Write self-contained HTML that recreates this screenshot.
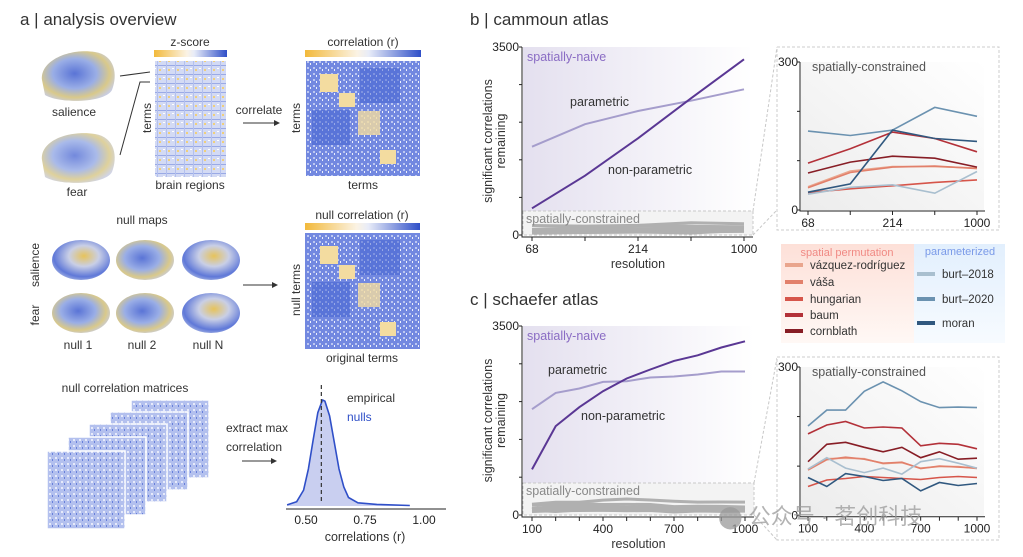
<!DOCTYPE html>
<html><head><meta charset="utf-8"><style>
html,body{margin:0;padding:0;background:#fff}
svg{display:block;font-family:"Liberation Sans","Noto Sans CJK SC",sans-serif}
</style></head><body>
<svg id="fig" width="1023" height="557" viewBox="0 0 1023 557" xmlns="http://www.w3.org/2000/svg">
<defs>
<linearGradient id="cb" x1="0" x2="1"><stop offset="0" stop-color="#f2b93b"/><stop offset="0.45" stop-color="#fbf3e4"/><stop offset="0.55" stop-color="#e8ecf8"/><stop offset="1" stop-color="#2f4fc8"/></linearGradient>
<linearGradient id="naive" x1="0" x2="1"><stop offset="0" stop-color="#e4e0ef"/><stop offset="1" stop-color="#ffffff"/></linearGradient>
<linearGradient id="inset" x1="0" y1="1" x2="1" y2="0"><stop offset="0" stop-color="#ececec"/><stop offset="1" stop-color="#ffffff"/></linearGradient>
<linearGradient id="redbg" x1="0" y1="0" x2="0" y2="1"><stop offset="0" stop-color="#fde0d8"/><stop offset="1" stop-color="#fff8f5"/></linearGradient>
<linearGradient id="bluebg" x1="0" y1="0" x2="0" y2="1"><stop offset="0" stop-color="#e2effd"/><stop offset="1" stop-color="#f7fbff"/></linearGradient>
<radialGradient id="brain1" cx="0.45" cy="0.45" r="0.6"><stop offset="0" stop-color="#5a74d6"/><stop offset="0.5" stop-color="#9aaee6"/><stop offset="0.8" stop-color="#d9c98a"/><stop offset="1" stop-color="#c9cde0"/></radialGradient>
<radialGradient id="brain2" cx="0.55" cy="0.4" r="0.65"><stop offset="0" stop-color="#e7c35a"/><stop offset="0.4" stop-color="#c9cfe6"/><stop offset="0.8" stop-color="#5f78d8"/><stop offset="1" stop-color="#a9b7e3"/></radialGradient>
<pattern id="zmat" width="9" height="9" patternUnits="userSpaceOnUse"><rect width="9" height="9" fill="#d3daf4"/><rect x="0" y="2" width="9" height="1" fill="#9aaae6"/><rect x="4" y="0" width="1" height="9" fill="#b3c0ee"/><rect x="6" y="6" width="2" height="2" fill="#f0cf7a"/><rect x="1" y="5" width="2" height="1" fill="#fff"/></pattern>
<pattern id="cmat" width="6" height="6" patternUnits="userSpaceOnUse"><rect width="6" height="6" fill="#7288e0"/><rect x="1" y="1" width="2" height="2" fill="#bcc7f1"/><rect x="4" y="3" width="1" height="2" fill="#eef1fb"/></pattern>
<pattern id="nmat" width="6" height="6" patternUnits="userSpaceOnUse"><rect width="6" height="6" fill="#b3c0ee"/><rect x="1" y="1" width="2" height="2" fill="#e6eafa"/><rect x="4" y="3" width="1" height="2" fill="#6880da"/></pattern>
</defs>

<!-- PANEL A -->
<g font-size="12" fill="#333">
<text x="20" y="25" font-size="17">a | analysis overview</text>
<path d="M42,80 C40,60 70,48 95,52 C115,55 118,75 112,90 C105,103 60,104 45,95 Z" fill="url(#brain1)"/>
<text x="74" y="116" text-anchor="middle">salience</text>
<path d="M42,160 C40,140 70,130 95,134 C115,137 118,157 112,172 C105,185 60,186 45,177 Z" fill="url(#brain1)" opacity="0.85"/>
<text x="77" y="196" text-anchor="middle">fear</text>
<path d="M120,76 L150,72 M120,155 L140,82 L150,82" stroke="#333" fill="none" stroke-width="1"/>
<text x="190" y="46" text-anchor="middle">z-score</text>
<rect x="154" y="50" width="73" height="7" fill="url(#cb)"/>
<rect x="155" y="61" width="71" height="116" fill="url(#zmat)"/>
<text transform="translate(151,118) rotate(-90)" text-anchor="middle">terms</text>
<text x="190" y="189" text-anchor="middle">brain regions</text>
<text x="259" y="114" text-anchor="middle">correlate</text>
<path d="M243,123 L278,123" stroke="#333"/><path d="M280,123 l-6,-3 v6z" fill="#333"/>
<text x="363" y="46" text-anchor="middle">correlation (r)</text>
<rect x="305" y="50" width="116" height="7" fill="url(#cb)"/>
<rect x="306" y="61" width="114" height="115" fill="url(#cmat)"/>
<rect x="320" y="74" width="18" height="18" fill="#f3dca0"/><rect x="339" y="93" width="16" height="14" fill="#f3dca0"/><rect x="358" y="111" width="22" height="24" fill="#f3dca0" opacity="0.8"/><rect x="380" y="150" width="16" height="14" fill="#f3dca0"/>
<rect x="360" y="68" width="40" height="35" fill="#3f5fd0" opacity="0.5"/><rect x="312" y="110" width="38" height="35" fill="#3f5fd0" opacity="0.5"/>
<text transform="translate(300,118) rotate(-90)" text-anchor="middle">terms</text>
<text x="363" y="189" text-anchor="middle">terms</text>

<text x="142" y="224" text-anchor="middle">null maps</text>
<g>
<ellipse cx="81" cy="260" rx="29" ry="20" fill="url(#brain2)"/><ellipse cx="145" cy="260" rx="29" ry="20" fill="url(#brain1)"/><ellipse cx="211" cy="260" rx="29" ry="20" fill="url(#brain2)"/>
<ellipse cx="81" cy="313" rx="29" ry="20" fill="url(#brain1)"/><ellipse cx="145" cy="313" rx="29" ry="20" fill="url(#brain1)"/><ellipse cx="211" cy="313" rx="29" ry="20" fill="url(#brain2)"/>
</g>
<text transform="translate(39,265) rotate(-90)" text-anchor="middle">salience</text>
<text transform="translate(39,315) rotate(-90)" text-anchor="middle">fear</text>
<text x="78" y="349" text-anchor="middle">null 1</text><text x="142" y="349" text-anchor="middle">null 2</text><text x="208" y="349" text-anchor="middle">null N</text>
<path d="M243,285 L275,285" stroke="#333"/><path d="M278,285 l-6,-3 v6z" fill="#333"/>
<text x="362" y="219" text-anchor="middle">null correlation (r)</text>
<rect x="305" y="223" width="115" height="7" fill="url(#cb)"/>
<rect x="305" y="233" width="115" height="116" fill="url(#cmat)"/>
<rect x="320" y="246" width="18" height="18" fill="#f3dca0"/><rect x="339" y="265" width="16" height="14" fill="#f3dca0"/><rect x="358" y="283" width="22" height="24" fill="#f3dca0" opacity="0.8"/><rect x="380" y="322" width="16" height="14" fill="#f3dca0"/>
<rect x="360" y="240" width="40" height="35" fill="#3f5fd0" opacity="0.5"/><rect x="312" y="282" width="38" height="35" fill="#3f5fd0" opacity="0.5"/>
<text transform="translate(300,290) rotate(-90)" text-anchor="middle">null terms</text>
<text x="362" y="362" text-anchor="middle">original terms</text>

<text x="125" y="392" text-anchor="middle">null correlation matrices</text>
<g stroke="#fff" stroke-width="1.5">
<rect x="131" y="400" width="78" height="78" fill="url(#nmat)"/><rect x="110" y="412" width="78" height="78" fill="url(#nmat)"/><rect x="89" y="424" width="78" height="78" fill="url(#nmat)"/><rect x="68" y="437" width="78" height="78" fill="url(#nmat)"/><rect x="47" y="451" width="78" height="78" fill="url(#nmat)"/>
</g>
<text x="226" y="432">extract max</text>
<text x="226" y="451">correlation</text>
<path d="M242,461 L274,461" stroke="#333"/><path d="M277,461 l-6,-3 v6z" fill="#333"/>
<g id="density"></g>
<text x="347" y="402">empirical</text>
<text x="347" y="421" fill="#2f4fc8">nulls</text>
</g>

<!-- PANEL B -->
<text x="470" y="25" font-size="17" fill="#333">b | cammoun atlas</text>
<g id="bmain"></g>
<g id="binset"></g>
<!-- PANEL C -->
<text x="470" y="305" font-size="17" fill="#333">c | schaefer atlas</text>
<g id="cmain"></g>
<g id="cinset"></g>

<!-- LEGEND -->
<g font-size="11.5" fill="#333">
<rect x="781" y="244" width="133" height="99" fill="url(#redbg)"/>
<rect x="914" y="244" width="91" height="99" fill="url(#bluebg)"/>
<text x="847" y="256" text-anchor="middle" fill="#f08a84" font-size="11">spatial permutation</text>
<text x="960" y="255" text-anchor="middle" fill="#7a9ae8" font-size="11">parameterized</text>
<g id="legitems"></g>
</g>

<text x="718" y="524" font-size="22" fill="#9a9a9a" opacity="0.75">⬤ 公众号 · 茗创科技</text>
</svg>
<script>
// ---- data ----
const bCats = [68, 120, 214, 500, 1000];
const bTickLabels = ["68", "", "214", "", "1000"];
const bParametric = [1644, 2062, 2309, 2500, 2712];
const bNonParametric = [497, 1104, 1800, 2545, 3271];
const bVazquez = [47, 79, 88, 88, 85];
const bVasa = [45, 76, 87, 89, 84];
const bHungarian = [35, 43, 49, 56, 61];
const bBaum = [95, 124, 158, 145, 118];
const bCornblath = [75, 97, 109, 105, 87];
const bBurt2018 = [32, 46, 51, 34, 78];
const bBurt2020 = [160, 151, 162, 208, 190];
const bMoran = [36, 53, 162, 145, 139];

const cCats = [100, 200, 300, 400, 500, 600, 700, 800, 900, 1000];
const cTickLabels = ["100", "", "", "400", "", "", "700", "", "", "1000"];
const cParametric = [1960, 2261, 2343, 2465, 2478, 2547, 2565, 2602, 2657, 2657];
const cNonParametric = [845, 1646, 1997, 2293, 2527, 2694, 2853, 2958, 3101, 3217];
const cVazquez = [94, 115, 116, 115, 105, 107, 96, 99, 99, 95];
const cVasa = [92, 113, 118, 114, 106, 108, 95, 100, 98, 96];
const cHungarian = [59, 72, 75, 79, 77, 75, 73, 77, 79, 77];
const cBaum = [165, 183, 190, 177, 179, 177, 141, 146, 144, 135];
const cCornblath = [109, 144, 148, 138, 129, 138, 117, 129, 114, 116];
const cBurt2018 = [94, 117, 96, 87, 96, 84, 109, 115, 106, 96];
const cBurt2020 = [181, 213, 213, 251, 270, 252, 230, 218, 219, 218];
const cMoran = [77, 59, 85, 79, 71, 75, 50, 67, 61, 65];

const mainYTicks = [0, 700, 1400, 2100, 2800, 3500];
const insetYTicks = [0, 100, 200, 300];
const densityR = [0.42, 0.46, 0.49, 0.51, 0.53, 0.55, 0.57, 0.58, 0.60, 0.62, 0.64, 0.66, 0.68, 0.72, 0.80, 0.94];
const densityD = [0.01, 0.04, 0.15, 0.35, 0.62, 0.88, 1.0, 0.99, 0.85, 0.6, 0.35, 0.18, 0.08, 0.03, 0.015, 0.005];
const densityTicks = [0.5, 0.75, 1.0];
const dashedR = 0.565;

const COLORS = {vazquez:"#e9a58d", vasa:"#e2806b", hungarian:"#d6554a", baum:"#b33139", cornblath:"#871d25", burt2018:"#a9bfcf", burt2020:"#6b92b0", moran:"#30587f"};
const NS = "http://www.w3.org/2000/svg";
function mk(tag, attrs, parent, text){const e=document.createElementNS(NS,tag);for(const k in attrs)e.setAttribute(k,attrs[k]);if(text!==undefined)e.textContent=text;parent.appendChild(e);return e;}
function lin(d0,d1,r0,r1){return v=>r0+(v-d0)/(d1-d0)*(r1-r0);}
function pathD(xs, ys){return xs.map((x,i)=>(i?"L":"M")+x.toFixed(1)+","+ys[i].toFixed(1)).join(" ");}

function mainChart(g, cfg){
  const x = i => cfg.x0 + i*(cfg.x1-cfg.x0)/(cfg.n-1);
  const y = lin(0,3500,cfg.y0,cfg.y1);
  mk("rect",{x:cfg.x0-9,y:cfg.y1,width:cfg.x1-cfg.x0+18,height:cfg.boxTop-cfg.y1,fill:"url(#naive)"},g);
  const box = mk("rect",{x:cfg.x0-9,y:cfg.boxTop,width:cfg.x1-cfg.x0+18,height:cfg.y0-cfg.boxTop,fill:"#f3f3f3",stroke:"#c8c8c8","stroke-dasharray":"3,2"},g);
  
  
  mk("path",{d:`M${cfg.x1+9},${cfg.boxTop} L${cfg.ix},${cfg.iy0} M${cfg.x1+9},${cfg.y0} L${cfg.ix},${cfg.iy1}`,stroke:"#c8c8c8","stroke-dasharray":"3,2",fill:"none"},g);
  cfg.constrained.forEach(arr=>{
    const p = mk("path",{d:pathD(arr.map((v,i)=>x(i)), arr.map(v=>y(v*1.1))),stroke:"#b0b0b0","stroke-width":3,fill:"none"},g);
    
    
  });
  const par = mk("path",{d:pathD(cfg.par.map((v,i)=>x(i)),cfg.par.map(y)),stroke:"#a59dcc","stroke-width":2,fill:"none"},g);
  
  
  const np = mk("path",{d:pathD(cfg.np.map((v,i)=>x(i)),cfg.np.map(y)),stroke:"#5a3794","stroke-width":2,fill:"none"},g);
  
  
  const ax = cfg.x0-10;
  mk("path",{d:`M${ax},${cfg.y1} V${cfg.y0+2} H${cfg.x1+9}`,stroke:"#222",fill:"none"},g);
  mainYTicks.forEach(t=>{
    mk("path",{d:`M${ax-3},${y(t)} H${ax}`,stroke:"#222"},g);
    if(t===0||t===3500){const tl=mk("text",{x:ax-3,y:y(t)+4,"text-anchor":"end","font-size":12,fill:"#222"},g,String(t));
      
      }
  });
  cfg.ticks.forEach((lab,i)=>{
    mk("path",{d:`M${x(i)},${cfg.y0+2} v4`,stroke:"#222"},g);
    if(lab){const tl=mk("text",{x:x(i),y:cfg.y0+18,"text-anchor":"middle","font-size":12,fill:"#222"},g,lab);
      
      }
  });
  const xt = mk("text",{x:(cfg.x0+cfg.x1)/2,y:cfg.y0+33,"text-anchor":"middle","font-size":12.5,fill:"#333"},g,"resolution");
  
  
  const ym=(cfg.y0+cfg.y1)/2;
  const yt = mk("text",{transform:`translate(492,${ym}) rotate(-90)`,"text-anchor":"middle","font-size":12.5,fill:"#333"},g,"significant correlations");
  
  
  mk("text",{transform:`translate(505,${ym}) rotate(-90)`,"text-anchor":"middle","font-size":12.5,fill:"#333"},g,"remaining");
  mk("text",{x:cfg.x0-5,y:cfg.y1+14,"font-size":12.5,fill:"#8a6cc4"},g,"spatially-naive");
  mk("text",{x:cfg.parLab[0],y:cfg.parLab[1],"font-size":12.5,fill:"#333"},g,"parametric");
  mk("text",{x:cfg.npLab[0],y:cfg.npLab[1],"font-size":12.5,fill:"#333"},g,"non-parametric");
  mk("text",{x:cfg.x0-6,y:cfg.boxTop+12,"font-size":12.5,fill:"#888"},g,"spatially-constrained");
}

function insetChart(g, cfg){
  const x = i => cfg.x0 + i*(cfg.x1-cfg.x0)/(cfg.n-1);
  const y = lin(0,300,cfg.y0,cfg.y1);
  mk("rect",{x:cfg.bx,y:cfg.by,width:222,height:183,fill:"#fff",stroke:"#ccc","stroke-dasharray":"3,2"},g);
  mk("rect",{x:cfg.x0-7,y:cfg.y1,width:cfg.x1-cfg.x0+14,height:cfg.y0-cfg.y1,fill:"url(#inset)"},g);
  const ax = cfg.x0-8;
  mk("path",{d:`M${ax},${cfg.y1} V${cfg.y0+1} H${cfg.x1+8}`,stroke:"#222",fill:"none"},g);
  insetYTicks.forEach(t=>{
    mk("path",{d:`M${ax-3},${y(t)} H${ax}`,stroke:"#222"},g);
    if(t===0||t===300) mk("text",{x:ax-2,y:y(t)+4,"text-anchor":"end","font-size":12,fill:"#222"},g,String(t));
  });
  cfg.ticks.forEach((lab,i)=>{
    mk("path",{d:`M${x(i)},${cfg.y0+1} v4`,stroke:"#222"},g);
    if(lab) mk("text",{x:x(i),y:cfg.y0+17,"text-anchor":"middle","font-size":12,fill:"#222"},g,lab);
  });
  mk("text",{x:cfg.x0+4,y:cfg.y1+9,"font-size":12.5,fill:"#555"},g,"spatially-constrained");
  cfg.series.forEach(([name,arr])=>{
    const p = mk("path",{d:pathD(arr.map((v,i)=>x(i)),arr.map(y)),stroke:COLORS[name],"stroke-width":1.6,fill:"none"},g);
    
    
  });
}

const bSeries=[["vazquez",bVazquez],["vasa",bVasa],["hungarian",bHungarian],["cornblath",bCornblath],["baum",bBaum],["burt2018",bBurt2018],["burt2020",bBurt2020],["moran",bMoran]];
const cSeries=[["vazquez",cVazquez],["vasa",cVasa],["hungarian",cHungarian],["cornblath",cCornblath],["baum",cBaum],["burt2018",cBurt2018],["burt2020",cBurt2020],["moran",cMoran]];

mainChart(document.getElementById("bmain"),{x0:532,x1:744,n:bCats.length,y0:235,y1:47,boxTop:211,ticks:bTickLabels,par:bParametric,np:bNonParametric,constrained:bSeries.map(s=>s[1]),parLab:[570,106],npLab:[608,174],ix:777,iy0:47,iy1:210});
mainChart(document.getElementById("cmain"),{x0:532,x1:745,n:cCats.length,y0:515,y1:326,boxTop:483,ticks:cTickLabels,par:cParametric,np:cNonParametric,constrained:cSeries.map(s=>s[1]),parLab:[548,374],npLab:[581,420],ix:777,iy0:358,iy1:540});
insetChart(document.getElementById("binset"),{x0:808,x1:977,n:bCats.length,y0:210,y1:62,bx:777,by:47,ticks:bTickLabels,series:bSeries});
insetChart(document.getElementById("cinset"),{x0:808,x1:977,n:cCats.length,y0:515.7,y1:367,bx:777,by:357,ticks:cTickLabels,series:cSeries});

(function(){
  const g=document.getElementById("density");
  const x=lin(0.5,1.0,306,424), y=lin(0,1,506,400);
  const xs=densityR.map(x), ys=densityD.map(y);
  let d=pathD(xs,ys);
  const area=mk("path",{d:d+` L${xs[xs.length-1]},506 L${xs[0]},506 Z`,fill:"#c9cff0"},g);
  
  
  const ln=mk("path",{d:d,stroke:"#2f4fc8","stroke-width":1.6,fill:"none","stroke-linejoin":"round"},g);
  
  
  const dl=mk("path",{d:`M${x(dashedR)},385 V504`,stroke:"#333","stroke-dasharray":"4,3","stroke-width":1.2},g);
  
  
  mk("path",{d:"M286,509 H446",stroke:"#222"},g);
  densityTicks.forEach(t=>{
    const tl=mk("text",{x:x(t),y:524,"text-anchor":"middle","font-size":12,fill:"#222"},g,t.toFixed(2));
    
    
  });
  mk("text",{x:365,y:541,"text-anchor":"middle","font-size":12.5,fill:"#333"},g,"correlations (r)");
})();

(function(){
  const g=document.getElementById("legitems");
  const red=[["vazquez","vázquez-rodríguez",266],["vasa","váša",283],["hungarian","hungarian",300],["baum","baum",316],["cornblath","cornblath",332]];
  const blue=[["burt2018","burt–2018",275],["burt2020","burt–2020",300],["moran","moran",324]];
  red.forEach(([k,l,yy])=>{
    const s=mk("rect",{x:785,y:yy-3,width:18,height:4,fill:COLORS[k]},g);
    
    
    const t=mk("text",{x:810,y:yy+3},g,l);
    
    
  });
  blue.forEach(([k,l,yy])=>{
    const s=mk("rect",{x:917,y:yy-3,width:18,height:4,fill:COLORS[k]},g);
    
    
    const t=mk("text",{x:942,y:yy+3},g,l);
    
    
  });
})();
</script>
</body></html>
